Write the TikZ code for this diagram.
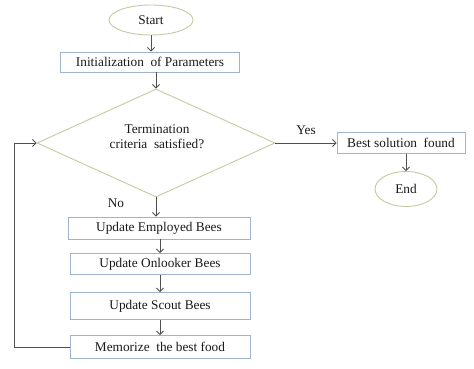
\documentclass[tikz,border=0pt]{standalone}
\usepackage{fontspec}
\setmainfont{Liberation Serif}
\usetikzlibrary{shapes.geometric,arrows.meta}
\definecolor{boxline}{HTML}{9FB4CC}
\definecolor{greenline}{HTML}{BFCD9E}
\definecolor{arrowcol}{HTML}{505050}
\tikzset{
  txt/.style={font=\fontsize{13.3}{15}\selectfont, text=black!90},
  procbox/.style={txt, draw=boxline, line width=0.9pt, fill=white, rectangle, inner sep=0pt},
  termnode/.style={txt, draw=greenline, line width=0.9pt, ellipse, inner sep=0pt},
  flow/.style={draw=arrowcol, line width=0.8pt, -{Straight Barb[length=3.5pt,width=7pt]}},
}
\begin{document}
\begin{tikzpicture}[x=1pt,y=-1pt]
\useasboundingbox (0,0) rectangle (474,369);

% terminals
\node[termnode, minimum width=84pt, minimum height=30pt] (start) at (151,20) {Start};
\node[termnode, minimum width=62pt, minimum height=35pt] (end) at (406,189) {End};

% decision
\node[diamond, draw=greenline, line width=0.9pt, aspect=2.2,
      minimum width=238pt, minimum height=108pt, inner sep=0pt]
      (term) at (156,143) {};
\node[txt, align=center] (termtxt) at (157,137) {Termination\\[0pt]criteria\ \ satisfied?};

% process steps
\node[procbox, minimum width=179pt, minimum height=20pt] (init) at (150,62) {Initialization\ \ of Parameters};
\node[procbox, minimum width=128pt, minimum height=21pt] (best) at (401,143) {Best solution\ \ found};
\node[procbox, minimum width=182pt, minimum height=22pt] (emp) at (159,228) {Update Employed Bees};
\node[procbox, minimum width=180pt, minimum height=21pt] (onl) at (160,264) {Update Onlooker Bees};
\node[procbox, minimum width=180pt, minimum height=27pt] (sct) at (160,306) {Update Scout Bees};
\node[procbox, minimum width=180pt, minimum height=23pt] (mem) at (160,347) {Memorize\ \ the best food};

% labels
\node[txt] (yes) at (306,130) {Yes};
\node[txt] (no) at (116,203) {No};

% connectors
\draw[flow] (start.south) -- (start.south |- init.north);
\draw[flow] (term.north |- init.south) -- (term.north);
\draw[flow] (term.east) -- (best.west);
\draw[flow] (best.south -| end.north) -- (end.north);
\draw[flow] (term.south) -- (term.south |- emp.north);
\draw[flow] (onl.north |- emp.south) -- (onl.north);
\draw[flow] (sct.north |- onl.south) -- (sct.north);
\draw[flow] (mem.north |- sct.south) -- (mem.north);
\coordinate (loopbot) at (14,347);
\coordinate (looptop) at (14,143);
\draw[flow] (mem.west) -- (loopbot) -- (looptop) -- (term.west);
\end{tikzpicture}
\end{document}
